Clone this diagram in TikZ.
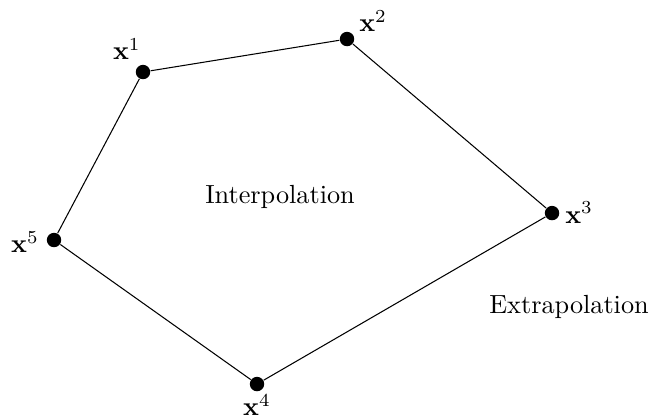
\documentclass[tikz,border=0pt]{standalone}
\usepackage{amsfonts,amsmath}

\begin{document}
\begin{tikzpicture}
		\tikzset{pt/.style={circle, fill=black, inner sep=0pt, minimum size=5.5pt},
			lab/.style={inner sep=1pt}}
		\useasboundingbox (0,0) rectangle (8.75,5.615);
		%points
		\node[pt] (p1) at (1.916, 4.650) {};
		\node[pt] (p2) at (4.650, 5.092) {};
		\node[pt] (p3) at (7.397, 2.760) {};
		\node[pt] (p4) at (3.444, 0.469) {};
		\node[pt] (p5) at (0.724, 2.399) {};
		%labels
		\node[lab] at (1.700, 4.955) {$\mathbf{x}^1$};
		\node[lab] at (5.000, 5.335) {$\mathbf{x}^2$};
		\node[lab] at (7.760, 2.770) {$\mathbf{x}^3$};
		\node[lab] at (3.444, 0.185) {$\mathbf{x}^4$};
		\node[lab] at (0.335, 2.370) {$\mathbf{x}^5$};
		%polygon
		\draw (p1) -- (p2) -- (p3) -- (p4) -- (p5) -- (p1);
		%regions
		\node at (3.752, 2.975) {Interpolation};
		\node at (7.625, 1.501) {Extrapolation};
	\end{tikzpicture}
\end{document}
